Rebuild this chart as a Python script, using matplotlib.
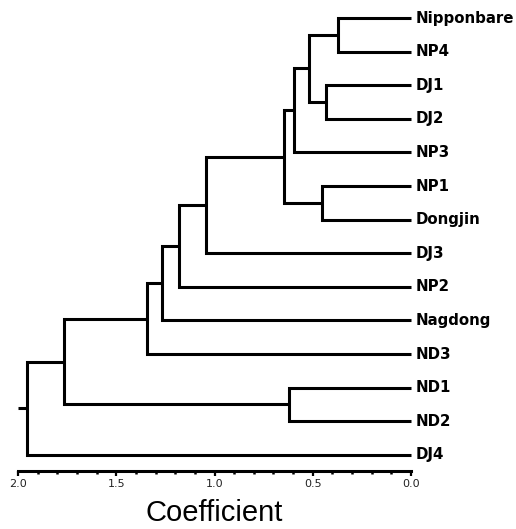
import matplotlib
matplotlib.use('Agg')
import matplotlib.pyplot as plt
from matplotlib.ticker import MultipleLocator

# leaves top to bottom
leaves = ['Nipponbare', 'NP4', 'DJ1', 'DJ2', 'NP3', 'NP1', 'Dongjin',
          'DJ3', 'NP2', 'Nagdong', 'ND3', 'ND1', 'ND2', 'DJ4']

# merges: (left, right, coefficient); ints refer to earlier merges
merge_left = ['Nipponbare', 'DJ1', 'NP1', 0, 3, 'ND1', 4, 6, 7, 8, 9, 10, 11]
merge_right = ['NP4', 'DJ2', 'Dongjin', 1, 'NP3', 'ND2', 2, 'DJ3', 'NP2', 'Nagdong', 'ND3', 5, 'DJ4']
merge_height = [0.373, 0.434, 0.451, 0.519, 0.594, 0.622, 0.648,
                1.042, 1.181, 1.266, 1.344, 1.766, 1.954]
root_height = 2.0

fig = plt.figure(figsize=(5.16, 5.29), dpi=100)
ax = fig.add_axes([0.0349, 0.1102, 0.7616, 0.8875])

lw = 2.2
pos = {}
for i, name in enumerate(leaves):
    pos[name] = (0.0, i)


def where(node):
    return pos[node] if isinstance(node, str) else pos[('m', node)]


for i in range(len(merge_height)):
    h = merge_height[i]
    xl, yl = where(merge_left[i])
    xr, yr = where(merge_right[i])
    ax.plot([xl, h, h, xr], [yl, yl, yr, yr], color='black', lw=lw,
            solid_joinstyle='miter', solid_capstyle='butt', clip_on=False)
    pos[('m', i)] = (h, (yl + yr) / 2)

xt, yt = pos[('m', len(merge_height) - 1)]
ax.plot([xt, root_height], [yt, yt], color='black', lw=lw,
        solid_capstyle='butt', clip_on=False)

for i, name in enumerate(leaves):
    ax.annotate(name, (0.0, i), xytext=(3, 0), textcoords='offset points',
                ha='left', va='center', fontsize=10.8, fontweight='bold',
                annotation_clip=False)

ax.set_xlim(2.0, 0.0)
ax.set_ylim(13.47, -0.5)
for s in ['top', 'right', 'left']:
    ax.spines[s].set_visible(False)
ax.spines['bottom'].set_linewidth(2.2)
ax.set_yticks([])
ax.xaxis.set_major_locator(MultipleLocator(0.5))
ax.xaxis.set_minor_locator(MultipleLocator(0.1))
ax.tick_params(axis='x', which='major', length=3.8, width=1.6, labelsize=8,
               labelcolor='#222222', pad=2.5)
ax.tick_params(axis='x', which='minor', length=2.2, width=1.8)
ax.set_xlabel('Coefficient', fontsize=21, family='Liberation Sans', labelpad=7)
ax.patch.set_alpha(0)

plt.savefig('out.png', dpi=100)
